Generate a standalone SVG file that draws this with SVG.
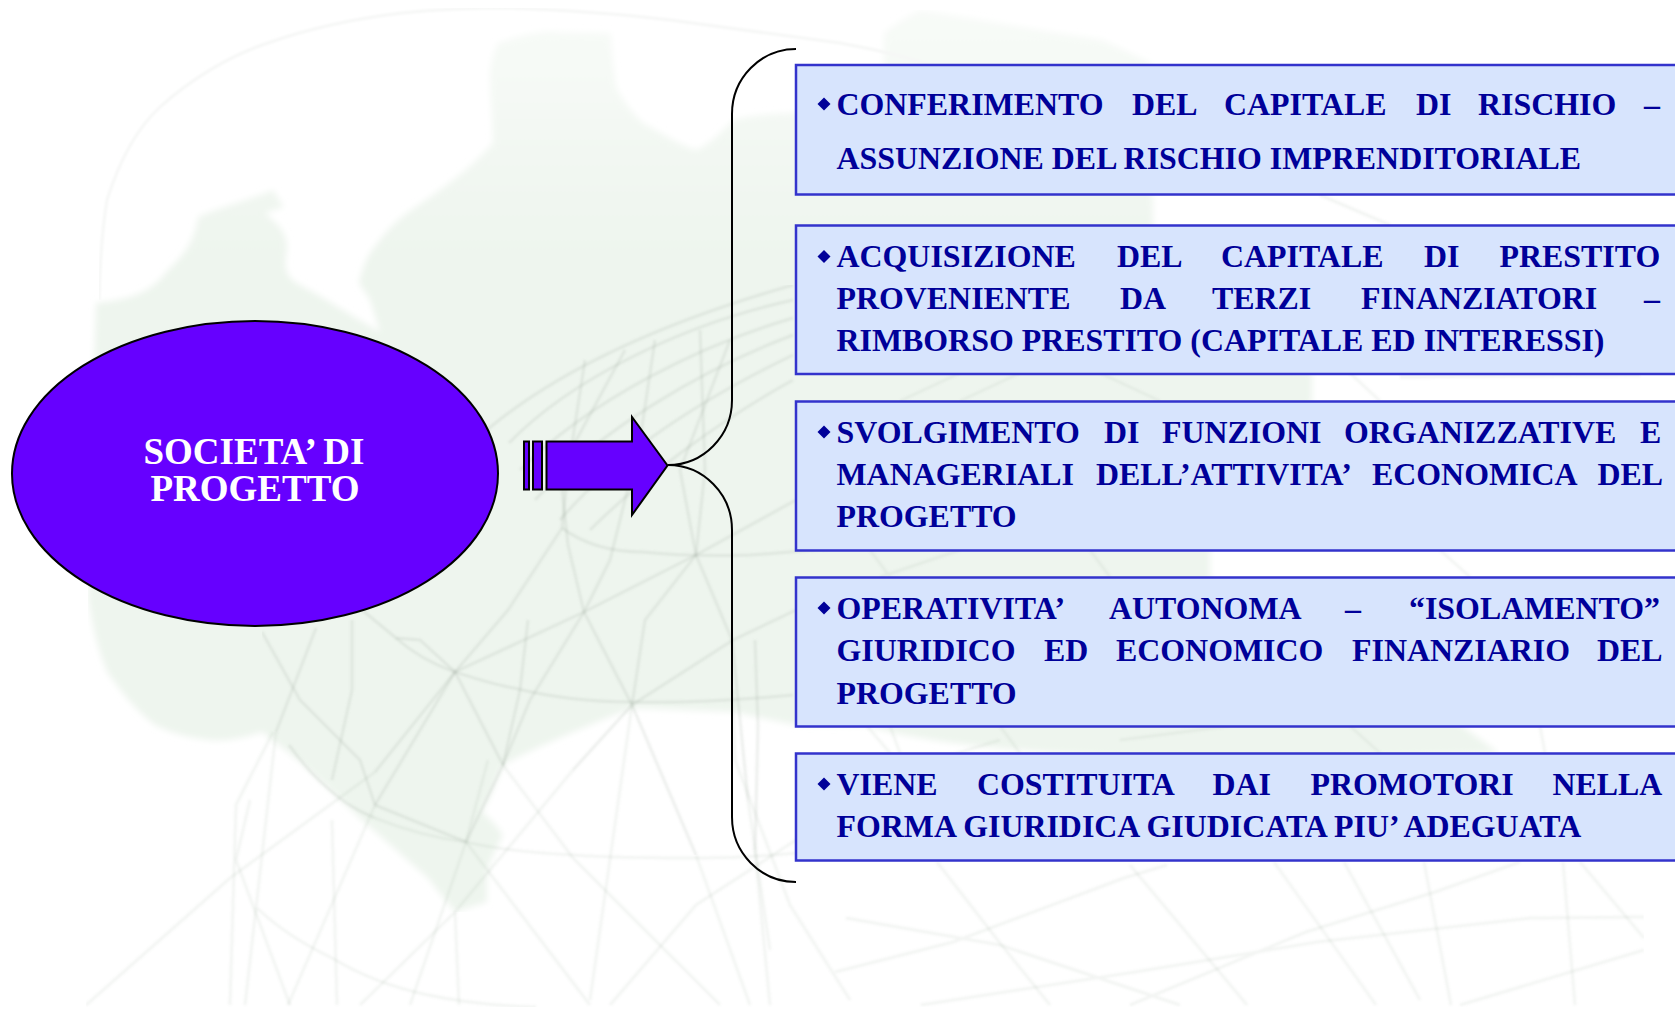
<svg xmlns="http://www.w3.org/2000/svg" width="1675" height="1009" viewBox="0 0 1675 1009">
<style>
.map{fill:url(#mapfade);stroke:none}
.arc{fill:none;stroke:#f6f7f6;stroke-width:3}
.wire{fill:none;stroke:#8a9a8a;stroke-opacity:.15;stroke-width:3}
.wire2{fill:none;stroke:#8a9a8a;stroke-opacity:.1;stroke-width:3}
.box{fill:#d7e4fd;stroke:#3333cc;stroke-width:2.500}
.t{font-family:"Liberation Serif","Times New Roman",serif;font-weight:bold;font-size:31.900px;fill:#000099}
.c{font-family:"Liberation Serif","Times New Roman",serif;font-weight:bold;font-size:37px;fill:#fff;text-anchor:middle}
.bullet{fill:#000099}
.sh{fill:#6600ff;stroke:#000;stroke-width:2}
</style>
<defs>
<polygon id="d" class="bullet" points="0,-6.5 6.5,0 0,6.5 -6.5,0"/>
<linearGradient id="mapfade" gradientUnits="userSpaceOnUse" x1="0" y1="10" x2="0" y2="260"><stop offset="0" stop-color="#f8fbf8"/><stop offset="1" stop-color="#eef5ee"/></linearGradient>
<filter id="soft" x="0" y="0" width="1" height="1"><feGaussianBlur stdDeviation="1"/></filter>
<filter id="softer" x="0" y="0" width="1" height="1"><feGaussianBlur stdDeviation="3"/></filter>
</defs>
<rect width="1675" height="1009" fill="#fff"/>
<g id="background">
<path class="map" filter="url(#softer)" d="M96 303C125 300 150 295 168 270C190 250 195 235 198 217C225 205 250 200 273 190L284 207L265 213C280 225 288 235 287 250C284 265 284 277 300 285C325 298 345 312 380 332L370 300L359 283C362 270 365 262 370 253C385 232 395 222 407 213C440 190 470 170 493 143C493 120 490 95 490 73C492 58 494 50 498 43C520 36 540 30 557 32L611 33C612 55 614 72 616 87C625 105 635 115 643 123C665 135 680 145 696 150C710 145 722 130 734 120C755 115 775 113 796 113L883 100L884 33C900 20 915 12 921 10L1040 30L1103 40L1151 63L1153 225L1153 350L1312 372L1312 401L1250 500L1210 550L1210 577L1300 650L1462 726L1499 753L1300 758C1100 760 950 750 867 726L796 725L733 712L632 708C590 725 540 745 503 765C495 785 490 798 482 812C492 820 498 828 503 835C497 848 490 860 487 872L487 902L455 912C445 900 437 890 428 878L364 822L300 762L262 732C245 738 225 742 209 740C190 738 170 733 155 725C135 710 120 690 107 672C98 650 92 625 88 598C90 540 92 420 96 303Z"/>
<path class="arc" filter="url(#soft)" d="M99 300C100 260 102 230 107 200C118 165 135 130 160 107C190 80 230 55 268 43C310 28 360 18 402 13C440 9 475 8 509 8C560 10 620 14 670 20C730 28 790 36 840 43C880 50 920 60 960 75"/>
<g class="wire" filter="url(#soft)">
<path d="M509 443C570 380 680 325 793 300M520 470C590 400 700 345 793 318M535 500C600 430 700 370 793 335M560 520C620 450 710 395 793 355M470 445C550 370 670 320 793 285M590 530C640 480 720 420 793 380"/>
<path d="M562 528C585 545 615 552 643 552C680 556 720 556 750 555C780 553 810 550 835 548"/>
<path d="M396 638C415 655 435 665 455 672C480 680 495 685 514 688C550 697 590 702 632 702C680 703 740 700 793 695"/>
<path d="M289 745C300 760 310 772 321 782C340 800 355 810 375 818"/>
<path d="M352 620L352 690L332 780M316 628L276 732"/>
<path d="M375 772L455 672L584 612L696 555L796 500"/>
<path d="M375 805L455 672L508 610L562 528L568 470L585 360"/>
<path d="M466 842L503 765L530 700L584 612L610 560L640 440L655 340"/>
<path d="M573 770L632 705L733 640L796 610"/>
<path d="M466 842L375 805L360 760L300 700L262 632"/>
<path d="M503 765L455 672L420 640L396 638L350 600"/>
<path d="M632 705L645 620L696 555L705 470L700 330"/>
<path d="M696 855L632 705L584 612L568 545L560 470L625 350"/>
<path d="M503 765L520 690L528 620"/>
<path d="M748 800L732 640L696 555L680 470L730 340"/>
<path d="M755 850L758 726L755 640"/>
</g>
<g class="wire2" filter="url(#soft)">
<path d="M375 818C405 830 435 838 466 842C500 850 535 853 573 855C610 858 655 858 696 858C730 858 765 856 796 853"/>
<path d="M257 908C280 930 305 945 332 958C360 975 395 988 428 995C465 1003 500 1006 536 1007"/>
<path d="M86 1005L230 878L375 772"/>
<path d="M230 1005L236 805L273 732"/>
<path d="M245 1005L276 732"/>
<path d="M290 1005L236 860L250 800"/>
<path d="M337 1005L332 820"/>
<path d="M288 1005L375 805"/>
<path d="M410 1005L466 842"/>
<path d="M360 1005L455 912L573 770"/>
<path d="M590 1005L466 842"/>
<path d="M720 1005L573 858L503 765"/>
<path d="M610 1005L696 905L796 840L870 780L1000 740"/>
<path d="M590 1000L632 705"/>
<path d="M750 1005L696 855"/>
<path d="M455 912L459 1005M466 842L488 760"/>
<path d="M770 950L748 800"/>
<path d="M770 1005L755 850"/>
<path d="M850 1000L790 905L735 760L733 690M796 640L856 726M867 726L890 753"/>
<path d="M937 862L996 938L1050 1005M1130 865L1247 1005M1274 862L1376 1005M1344 862L1420 1000M1424 862L1451 1005M1563 862L1575 1005M1580 862L1644 938"/>
<path d="M835 972L953 942L1124 878L1167 865M921 1005L1135 972L1317 942L1531 918L1644 917M1130 1005L1306 932L1435 892L1520 862M846 918L1000 945L1180 1005M1460 1005L1644 950"/>
<path d="M870 550L890 577M900 401L960 373M960 401L1020 373M1100 373L1160 401M1350 373L1380 401M1400 377L1640 375M880 577L960 550M1090 550L1110 577M1440 550L1470 577M890 726L900 753M1000 726L1020 753M1120 740L1230 726M1350 726L1380 753M1540 726L1545 753M1320 195L1390 225"/>
</g>
</g>
<g id="connectors">
<path id="brace" fill="none" stroke="#000" stroke-width="2" d="M796 49A64 65 0 0 0 732 114V400A64 65 0 0 1 668 465A64 65 0 0 1 732 530V817A64 65 0 0 0 796 882"/>
<g id="arrow">
<rect class="sh" x="524" y="441.500" width="5" height="48"/>
<rect class="sh" x="533" y="441.500" width="9" height="48"/>
<path class="sh" d="M546.500 441.500H632V417L667.500 465.500L632 515V489.500H546.500Z"/>
</g>
</g>
<g id="node-societa">
<ellipse class="sh" cx="255" cy="473.500" rx="243" ry="152.500"/>
<text class="c" x="254" y="464">SOCIETA’ DI</text>
<text class="c" x="255" y="501">PROGETTO</text>
</g>
<g id="node-1">
<rect class="box" x="796" y="65" width="890" height="129.500"/>
<use href="#d" x="824" y="104"/>
<text class="t" y="115"><tspan x="836.500">CONFERIMENTO </tspan><tspan x="1132">DEL </tspan><tspan x="1224">CAPITALE </tspan><tspan x="1416">DI </tspan><tspan x="1478">RISCHIO </tspan><tspan x="1644">–</tspan></text>
<text class="t" x="836.500" y="169">ASSUNZIONE DEL RISCHIO IMPRENDITORIALE</text>
</g>
<g id="node-2">
<rect class="box" x="796" y="225.500" width="890" height="148.500"/>
<use href="#d" x="824" y="256.500"/>
<text class="t" y="267"><tspan x="836.500">ACQUISIZIONE </tspan><tspan x="1117">DEL </tspan><tspan x="1221">CAPITALE </tspan><tspan x="1424">DI </tspan><tspan x="1499.500">PRESTITO</tspan></text>
<text class="t" y="309"><tspan x="836.500">PROVENIENTE </tspan><tspan x="1120">DA </tspan><tspan x="1212">TERZI </tspan><tspan x="1361">FINANZIATORI </tspan><tspan x="1644">–</tspan></text>
<text class="t" x="836.500" y="351">RIMBORSO PRESTITO (CAPITALE ED INTERESSI)</text>
</g>
<g id="node-3">
<rect class="box" x="796" y="401.500" width="890" height="149"/>
<use href="#d" x="824" y="432"/>
<text class="t" y="443"><tspan x="836.500">SVOLGIMENTO </tspan><tspan x="1104">DI </tspan><tspan x="1162">FUNZIONI </tspan><tspan x="1344">ORGANIZZATIVE </tspan><tspan x="1640">E</tspan></text>
<text class="t" y="485"><tspan x="836.500">MANAGERIALI </tspan><tspan x="1096">DELL’ATTIVITA’ </tspan><tspan x="1372">ECONOMICA </tspan><tspan x="1597.500">DEL</tspan></text>
<text class="t" x="836.500" y="527">PROGETTO</text>
</g>
<g id="node-4">
<rect class="box" x="796" y="577.500" width="890" height="149"/>
<use href="#d" x="824" y="608"/>
<text class="t" y="619"><tspan x="836.500">OPERATIVITA’ </tspan><tspan x="1109">AUTONOMA </tspan><tspan x="1345">– </tspan><tspan x="1409">“ISOLAMENTO”</tspan></text>
<text class="t" y="661"><tspan x="836.500">GIURIDICO </tspan><tspan x="1044">ED </tspan><tspan x="1116">ECONOMICO </tspan><tspan x="1352">FINANZIARIO </tspan><tspan x="1597">DEL</tspan></text>
<text class="t" x="836.500" y="704">PROGETTO</text>
</g>
<g id="node-5">
<rect class="box" x="796" y="753.500" width="890" height="107"/>
<use href="#d" x="824" y="784"/>
<text class="t" y="795"><tspan x="836.500">VIENE </tspan><tspan x="977">COSTITUITA </tspan><tspan x="1212.500">DAI </tspan><tspan x="1310.500">PROMOTORI </tspan><tspan x="1552.500">NELLA</tspan></text>
<text class="t" x="836.500" y="837">FORMA GIURIDICA GIUDICATA PIU’ ADEGUATA</text>
</g>
</svg>
